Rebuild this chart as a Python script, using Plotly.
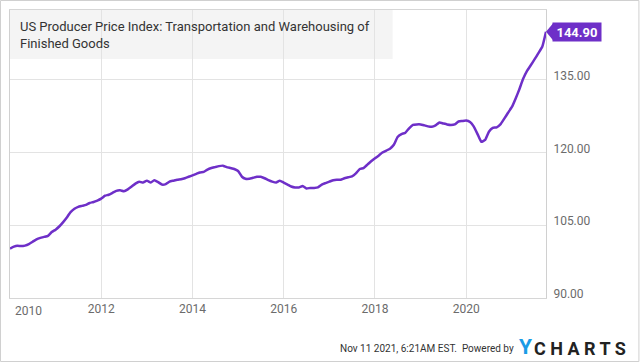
import plotly.graph_objects as go
import pandas as pd

start_month = "2010-01-01"
ppi_values = [
    100.2, 100.6, 100.8, 100.7, 100.8, 101.1, 101.6, 102.1, 102.4, 102.6, 102.8, 103.6,
    104.1, 104.8, 105.6, 106.6, 107.7, 108.4, 108.8, 109.0, 109.2, 109.6, 109.8, 110.1,
    110.5, 111.1, 111.3, 111.7, 112.1, 112.2, 112.0, 112.4, 113.0, 113.6, 114.0, 113.8,
    114.2, 113.8, 114.3, 113.9, 113.4, 113.5, 114.0, 114.2, 114.4, 114.5, 114.7, 115.0,
    115.3, 115.6, 115.9, 116.0, 116.5, 116.8, 117.0, 117.2, 117.3, 117.0, 116.8, 116.6,
    116.2, 115.0, 114.6, 114.6, 114.8, 115.0, 115.0, 114.7, 114.3, 114.0, 113.8, 114.2,
    113.8, 113.4, 113.0, 112.8, 112.8, 113.1, 112.6, 112.7, 112.7, 112.8, 113.4, 113.7,
    114.0, 114.3, 114.4, 114.4, 114.7, 114.9, 115.1, 115.7, 116.6, 116.8, 117.5, 118.2,
    118.8, 119.4, 120.0, 120.4, 120.8, 121.6, 123.2, 123.8, 124.1, 125.0, 125.7, 125.8,
    125.8, 125.6, 125.4, 125.3, 125.6, 126.2, 126.0, 125.8, 125.7, 125.8, 126.4, 126.5,
    126.6, 126.3, 125.4, 123.8, 122.2, 122.6, 124.3, 125.1, 125.2, 125.8, 127.0, 128.2,
    129.4, 131.2, 133.0, 135.2, 136.8, 138.0, 139.2, 140.5, 141.8, 144.9,
]
dates = pd.date_range(start_month, periods=len(ppi_values), freq="MS")

y_ticks = [90, 105, 120, 135]
y_tick_text = ["90.00", "105.00", "120.00", "135.00"]
x_ticks = ["2012-01-01", "2014-01-01", "2016-01-01", "2018-01-01", "2020-01-01"]
x_tick_text = ["2012", "2014", "2016", "2018", "2020"]
title_text = "US Producer Price Index: Transportation and Warehousing of<br>Finished Goods"
last_label = "144.90"
footer_text = "Nov 11 2021, 6:21AM EST.  Powered by"

W, H = 640, 362
ML, MR, MT, MB = 10, 93.5, 10, 64
PW, PH = W - ML - MR, H - MT - MB
YMIN, YMAX = 90, 149.4
PURPLE = "#6e2fc8"

def px_x(px):
    return (px - ML) / PW

def px_y(py):
    return (H - MB - py) / PH

fig = go.Figure()
fig.add_trace(go.Scatter(
    x=dates, y=ppi_values, mode="lines",
    line=dict(color=PURPLE, width=2.5, shape="spline", smoothing=0.4),
    hoverinfo="skip", showlegend=False,
))

last_py = (ppi_values[-1] - YMIN) / (YMAX - YMIN)
half = 9 / PH

shapes = [
    dict(type="rect", xref="paper", yref="paper", x0=0, x1=px_x(393), y0=px_y(59), y1=1,
         fillcolor="#f4f4f4", line=dict(width=0), layer="below"),
    dict(type="rect", xref="paper", yref="paper", x0=px_x(0.5), x1=px_x(639.5),
         y0=px_y(361.5), y1=px_y(0.5), line=dict(color="#d0d0d0", width=1), layer="above"),
    dict(type="path", xref="paper", yref="paper",
         path=f"M {px_x(546.5)},{last_py} L {px_x(554)},{last_py + half} L {px_x(554)},{last_py - half} Z",
         fillcolor=PURPLE, line=dict(width=0), layer="above"),
]

annotations = [
    dict(text=title_text, xref="paper", yref="paper", x=px_x(18), y=px_y(35),
         xanchor="left", yanchor="middle", align="left", showarrow=False,
         font=dict(family="Roboto", size=13, color="#333333")),
    dict(text="<b>" + last_label + "</b>", xref="paper", yref="paper", x=px_x(577.5), y=last_py,
         xanchor="center", yanchor="middle", showarrow=False, bgcolor=PURPLE,
         width=46, height=16, borderpad=1,
         font=dict(family="Roboto", size=13, color="white")),
    dict(text="2010", xref="x", yref="paper", x="2010-01-01", y=px_y(311),
         xanchor="left", yanchor="middle", xshift=3, showarrow=False,
         font=dict(family="Roboto", size=12, color="#6b6b6b")),
    dict(text=footer_text, xref="paper", yref="paper", x=px_x(516), y=px_y(348),
         xanchor="right", yanchor="middle", showarrow=False,
         font=dict(family="Roboto", size=10, color="#333333")),
    dict(text="<b>Y</b>", xref="paper", yref="paper", x=px_x(517), y=px_y(347),
         xanchor="left", yanchor="middle", showarrow=False,
         font=dict(family="Roboto", size=21, color="#1a9be6")),
    dict(text="<b>C H A R T S</b>", xref="paper", yref="paper", x=px_x(629), y=px_y(348),
         xanchor="right", yanchor="middle", showarrow=False,
         font=dict(family="Roboto", size=18, color="#222222")),
]

fig.update_layout(
    width=W, height=H,
    margin=dict(l=ML, r=MR, t=MT, b=MB, pad=0),
    paper_bgcolor="white", plot_bgcolor="white",
    shapes=shapes, annotations=annotations,
    xaxis=dict(
        type="date", range=[dates[0], dates[-1]],
        tickvals=x_ticks, ticktext=x_tick_text,
        showgrid=True, gridcolor="#e3e3e3", gridwidth=1,
        showline=True, linecolor="#d6d6d6", linewidth=1, mirror=True,
        ticks="", zeroline=False,
        tickfont=dict(family="Roboto", size=12, color="#6b6b6b"),
    ),
    yaxis=dict(
        side="right", range=[YMIN, YMAX],
        tickvals=y_ticks, ticktext=y_tick_text,
        showgrid=True, gridcolor="#e3e3e3", gridwidth=1,
        showline=True, linecolor="#d0d0d0", linewidth=1, mirror=True,
        ticks="", zeroline=False, ticklabelshift=-4, ticklabelstandoff=4,
        tickfont=dict(family="Roboto", size=12, color="#6b6b6b"),
    ),
)

fig.write_html(
    "out.html",
    config={"displayModeBar": False, "staticPlot": True},
    post_script="document.body.style.margin='0';document.body.style.overflow='hidden';",
)
